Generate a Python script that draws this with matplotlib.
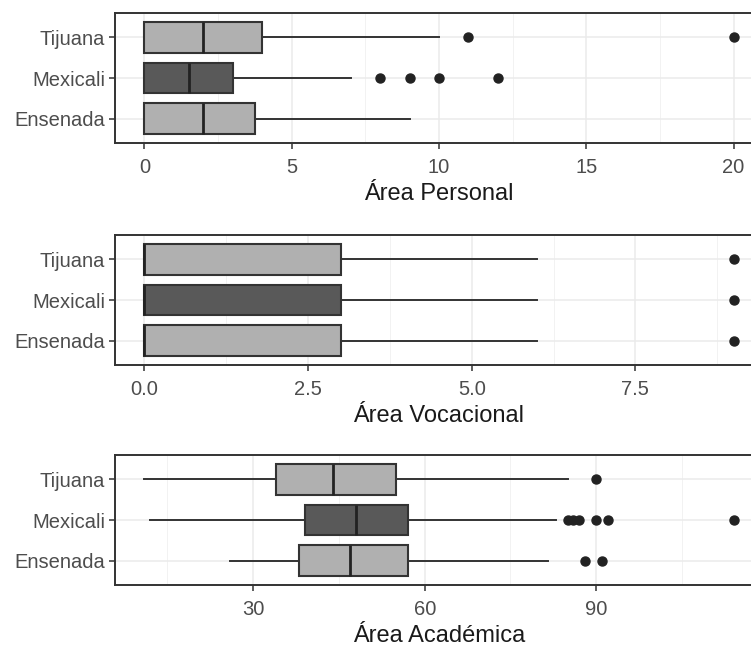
import matplotlib
matplotlib.use("Agg")
import matplotlib.pyplot as plt
from matplotlib.ticker import MultipleLocator, FormatStrFormatter

# ciudades de abajo hacia arriba
ciudades = ["Ensenada", "Mexicali", "Tijuana"]
relleno = ["#b0b0b0", "#595959", "#b0b0b0"]

# Área Personal
per_q1 = [0, 0, 0]
per_med = [2, 1.5, 2]
per_q3 = [3.75, 3, 4]
per_lo = [0, 0, 0]
per_hi = [9, 7, 10]
per_out = [[], [8, 9, 10, 12], [11, 20]]

# Área Vocacional
voc_q1 = [0, 0, 0]
voc_med = [0, 0, 0]
voc_q3 = [3, 3, 3]
voc_lo = [0, 0, 0]
voc_hi = [6, 6, 6]
voc_out = [[9], [9], [9]]

# Área Académica
aca_q1 = [38, 39, 34]
aca_med = [47, 48, 44]
aca_q3 = [57, 57, 55]
aca_lo = [26, 12, 11]
aca_hi = [81.5, 83, 85]
aca_out = [[88, 91], [85, 86, 87, 90, 92, 114], [90]]

paneles = [
    ("Área Personal", per_q1, per_med, per_q3, per_lo, per_hi, per_out, 5, 2.5, "%g"),
    ("Área Vocacional", voc_q1, voc_med, voc_q3, voc_lo, voc_hi, voc_out, 2.5, 1.25, "%.1f"),
    ("Área Académica", aca_q1, aca_med, aca_q3, aca_lo, aca_hi, aca_out, 30, 15, "%g"),
]

fuente = ["Liberation Sans", "DejaVu Sans"]
plt.rcParams["font.family"] = fuente

W, H = 751, 652
fig = plt.figure(figsize=(W / 100, H / 100), dpi=100)
fig.patch.set_facecolor("white")

tops = [13, 235, 455]
alto = 130
izq, der = 115, 763

for (titulo, q1, med, q3, lo, hi, out, mayor, menor, fmt), top in zip(paneles, tops):
    ax = fig.add_axes([izq / W, 1 - (top + alto) / H, (der - izq) / W, alto / H])
    stats = []
    for i in range(3):
        stats.append(dict(q1=q1[i], med=med[i], q3=q3[i], whislo=lo[i],
                          whishi=hi[i], fliers=out[i]))
    bp = ax.bxp(stats, positions=[1, 2, 3], vert=False, widths=0.75,
                patch_artist=True, showcaps=False,
                boxprops=dict(edgecolor="#333333", linewidth=1.5),
                medianprops=dict(color="#222222", linewidth=2.0),
                whiskerprops=dict(color="#333333", linewidth=1.4),
                flierprops=dict(marker="o", markerfacecolor="#222222",
                                markeredgecolor="#222222", markersize=6.5))
    for caja, c in zip(bp["boxes"], relleno):
        caja.set_facecolor(c)

    # escala tipo ggplot: rango de datos con 5% de expansión
    todos = lo + hi + [v for o in out for v in o]
    vmin, vmax = min(todos), max(todos)
    ext = (vmax - vmin) * 0.05
    ax.set_xlim(vmin - ext, vmax + ext)
    ax.set_ylim(0.4, 3.6)

    ax.xaxis.set_major_locator(MultipleLocator(mayor))
    ax.xaxis.set_minor_locator(MultipleLocator(menor))
    ax.xaxis.set_major_formatter(FormatStrFormatter(fmt))
    ax.set_yticks([1, 2, 3])
    ax.set_yticklabels(ciudades)

    ax.grid(which="major", color="#ebebeb", linewidth=1.1)
    ax.grid(which="minor", axis="x", color="#f2f2f2", linewidth=0.7)
    ax.set_axisbelow(True)

    for s in ax.spines.values():
        s.set_color("#333333")
        s.set_linewidth(1.4)
    ax.tick_params(which="major", length=4, width=1.1, color="#333333",
                   labelcolor="#4d4d4d", labelsize=14.5, pad=3)
    ax.tick_params(axis="x", pad=7)
    ax.tick_params(which="minor", length=0)
    ax.set_xlabel(titulo, fontsize=17, color="#1a1a1a", labelpad=4)

fig.savefig("out.png", dpi=100, facecolor="white")
